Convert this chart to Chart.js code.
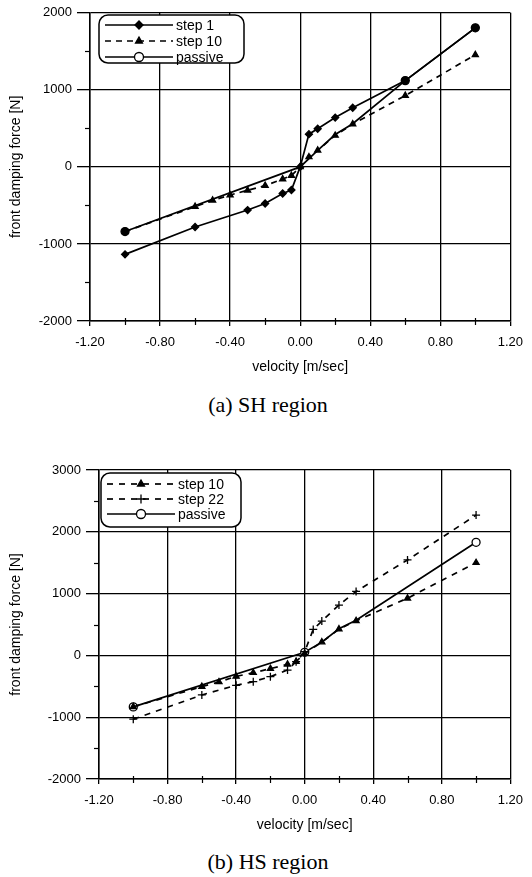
<!DOCTYPE html>
<html>
<head>
<meta charset="utf-8">
<script src="https://cdn.jsdelivr.net/npm/chart.js@4.4.1/dist/chart.umd.min.js"></script>
<style>
  body { margin: 0; background: #fff; width: 532px; height: 877px; position: relative; overflow: hidden; }
  .box { position: absolute; left: 0; width: 532px; }
  .caption { position: absolute; left: 0; width: 536px; text-align: center;
    font-family: "Liberation Serif", "Times New Roman", serif; font-size: 22px; line-height: 24px; color: #000; }
</style>
</head>
<body>
<div class="box" style="top:0;height:385px"><canvas id="chartSH"></canvas></div>
<div class="caption" style="top:393px">(a) SH region</div>
<div class="box" style="top:440px;height:403px"><canvas id="chartHS"></canvas></div>
<div class="caption" style="top:850px">(b) HS region</div>

<script>
// (a) SH region
const shVelStep1 = [-1.0, -0.6, -0.3, -0.2, -0.1, -0.05, 0.0, 0.05, 0.1, 0.2, 0.3, 0.6, 1.0];
const shForceStep1 = [-1135, -780, -560, -475, -345, -300, 0, 425, 495, 640, 768, 1120, 1805];
const shVelStep10 = [-1.0, -0.6, -0.5, -0.4, -0.3, -0.2, -0.1, -0.05, 0.0, 0.05, 0.1, 0.2, 0.3, 0.6, 1.0];
const shForceStep10 = [-839, -516, -434, -365, -303, -243, -157, -113, 0, 129, 215, 408, 555, 925, 1455];
const shVelPassive = [-1.0, 0.0, 0.1, 0.2, 0.3, 0.6, 1.0];
const shForcePassive = [-839, 0, 215, 420, 560, 1120, 1805];

// (b) HS region
const hsVelStep10 = [-1.0, -0.6, -0.5, -0.4, -0.3, -0.2, -0.1, -0.05, 0.0, 0.1, 0.2, 0.3, 0.6, 1.0];
const hsForceStep10 = [-833, -505, -430, -340, -280, -215, -145, -100, 30, 215, 425, 560, 925, 1500];
const hsVelStep22 = [-1.0, -0.6, -0.4, -0.3, -0.2, -0.1, -0.05, 0.0, 0.05, 0.1, 0.2, 0.3, 0.6, 1.0];
const hsForceStep22 = [-1032, -640, -484, -425, -344, -237, -102, 60, 420, 555, 815, 1035, 1545, 2270];
const hsVelPassive = [-1.0, 0.0, 0.1, 0.2, 0.3, 1.0];
const hsForcePassive = [-833, 50, 215, 430, 570, 1830];

const xTicks = [-1.2, 1.2, 0.4];      // min, max, step
const shYTicks = [-2000, 2000, 1000];
const hsYTicks = [-2000, 3000, 1000];

const FONT = "'Liberation Sans', Arial, sans-serif";

function pts(xs, ys) {
  return xs.map((x, i) => ({ x: x, y: ys[i] }));
}

// passive curve only carries its marker at a few points
function endMarkers(xs, keep, r) {
  return xs.map((x) => (keep.includes(x) ? r : 0));
}

// short ticks half way between the labelled ones
const minorTicks = {
  id: "minorTicks",
  afterDraw(chart) {
    const ctx = chart.ctx, xs = chart.scales.x, ys = chart.scales.y;
    ctx.save();
    ctx.strokeStyle = "#000";
    ctx.lineWidth = 1.2;
    for (let v = ys.min + 500; v < ys.max; v += 1000) {
      const p = Math.round(ys.getPixelForValue(v)) + 0.5;
      ctx.beginPath(); ctx.moveTo(ys.right - 5, p); ctx.lineTo(ys.right, p); ctx.stroke();
    }
    for (let v = xs.min + 0.2; v < xs.max; v += 0.4) {
      const p = Math.round(xs.getPixelForValue(v)) + 0.5;
      ctx.beginPath(); ctx.moveTo(p, xs.top - 3); ctx.lineTo(p, xs.top + 4); ctx.stroke();
    }
    ctx.restore();
  }
};

// boxed legend with line samples, drawn inside the plot
const boxLegend = {
  id: "boxLegend",
  afterDraw(chart, args, o) {
    const ctx = chart.ctx;
    ctx.save();
    ctx.setLineDash([]);
    ctx.fillStyle = "#fff";
    ctx.strokeStyle = "#000";
    ctx.lineWidth = 1.5;
    ctx.beginPath();
    ctx.roundRect(o.left, o.top, o.width, o.height, 9);
    ctx.fill();
    ctx.stroke();
    chart.data.datasets.forEach((ds, i) => {
      const y = o.top + o.first + i * o.row;
      const x0 = o.left + 6, x1 = o.left + 74, xm = (x0 + x1) / 2;
      const r = Array.isArray(ds.pointRadius) ? Math.max(...ds.pointRadius) : ds.pointRadius;
      ctx.strokeStyle = "#000";
      ctx.lineWidth = ds.borderWidth;
      ctx.setLineDash(ds.borderDash || []);
      ctx.beginPath(); ctx.moveTo(x0, y); ctx.lineTo(x1, y); ctx.stroke();
      ctx.setLineDash([]);
      ctx.fillStyle = ds.legendFill || ds.pointBackgroundColor;
      ctx.lineWidth = ds.pointBorderWidth;
      Chart.helpers.drawPoint(ctx, { pointStyle: ds.pointStyle, radius: r + 0.5, rotation: 0, borderWidth: ds.pointBorderWidth }, xm, y);
      ctx.fillStyle = "#000";
      ctx.font = "14px " + FONT;
      ctx.textBaseline = "middle";
      ctx.fillText(ds.label, o.left + 77, y + 1);
    });
    ctx.restore();
  }
};

function series(label, data, style, dash, fill, r) {
  return {
    label: label,
    data: data,
    showLine: true,
    borderColor: "#000",
    borderWidth: 1.7,
    borderDash: dash,
    pointStyle: style,
    pointRadius: r,
    pointBackgroundColor: fill,
    pointBorderColor: "#000",
    pointBorderWidth: 1.3,
  };
}

function makeChart(id, datasets, yTicks, yWidth, padTop, padRight, legend) {
  return new Chart(document.getElementById(id), {
    type: "scatter",
    data: { datasets: datasets },
    options: {
      responsive: true,
      maintainAspectRatio: false,
      animation: false,
      layout: { padding: { top: padTop, right: padRight, left: 0, bottom: 0 } },
      plugins: {
        legend: { display: false },
        tooltip: { enabled: false },
        boxLegend: legend,
      },
      scales: {
        x: {
          type: "linear",
          min: xTicks[0], max: xTicks[1],
          afterFit: (s) => { s.height = 64; },
          ticks: {
            stepSize: xTicks[2],
            color: "#000",
            font: { family: FONT, size: 13 },
            padding: 9,
            maxRotation: 0,
            callback: (v) => (Math.round(v * 100) / 100).toFixed(2),
          },
          grid: { color: "#000", lineWidth: 1.3, tickLength: 5, tickColor: "#000" },
          border: { color: "#000", width: 1.5 },
          title: { display: true, text: "velocity [m/sec]", color: "#000",
            font: { family: FONT, size: 14 }, padding: { top: 4, bottom: 9 } },
        },
        y: {
          min: yTicks[0], max: yTicks[1],
          afterFit: (s) => { s.width = yWidth; },
          ticks: {
            stepSize: yTicks[2],
            color: "#000",
            font: { family: FONT, size: 13 },
            padding: 5,
            callback: (v) => String(v),
          },
          grid: { color: "#000", lineWidth: 1.3, tickLength: 13, tickColor: "#000" },
          border: { color: "#000", width: 1.5 },
          title: { display: true, text: "front damping force [N]", color: "#000",
            font: { family: FONT, size: 14 }, padding: { top: 8, bottom: 0 } },
        },
      },
    },
    plugins: [minorTicks, boxLegend],
  });
}

const shPassive = series("passive", pts(shVelPassive, shForcePassive), "circle", [], "#000", endMarkers(shVelPassive, [-1.0, 0.6, 1.0], 4));
shPassive.legendFill = "#fff";

makeChart("chartSH", [
  series("step 1", pts(shVelStep1, shForceStep1), "rectRot", [], "#000", 3.5),
  series("step 10", pts(shVelStep10, shForceStep10), "triangle", [6, 5], "#000", 3.5),
  shPassive,
], shYTicks, 90, 11, 15, { left: 99, top: 15, width: 145, height: 48, first: 10, row: 16 });

makeChart("chartHS", [
  series("step 10", pts(hsVelStep10, hsForceStep10), "triangle", [6, 6], "#000", 3.5),
  series("step 22", pts(hsVelStep22, hsForceStep22), "cross", [6, 6], "#000", 4),
  series("passive", pts(hsVelPassive, hsForcePassive), "circle", [], "#fff", endMarkers(hsVelPassive, [-1.0, 0.0, 1.0], 4)),
], hsYTicks, 99, 30, 16, { left: 101, top: 33, width: 140, height: 54, first: 11, row: 15 });
</script>
</body>
</html>
